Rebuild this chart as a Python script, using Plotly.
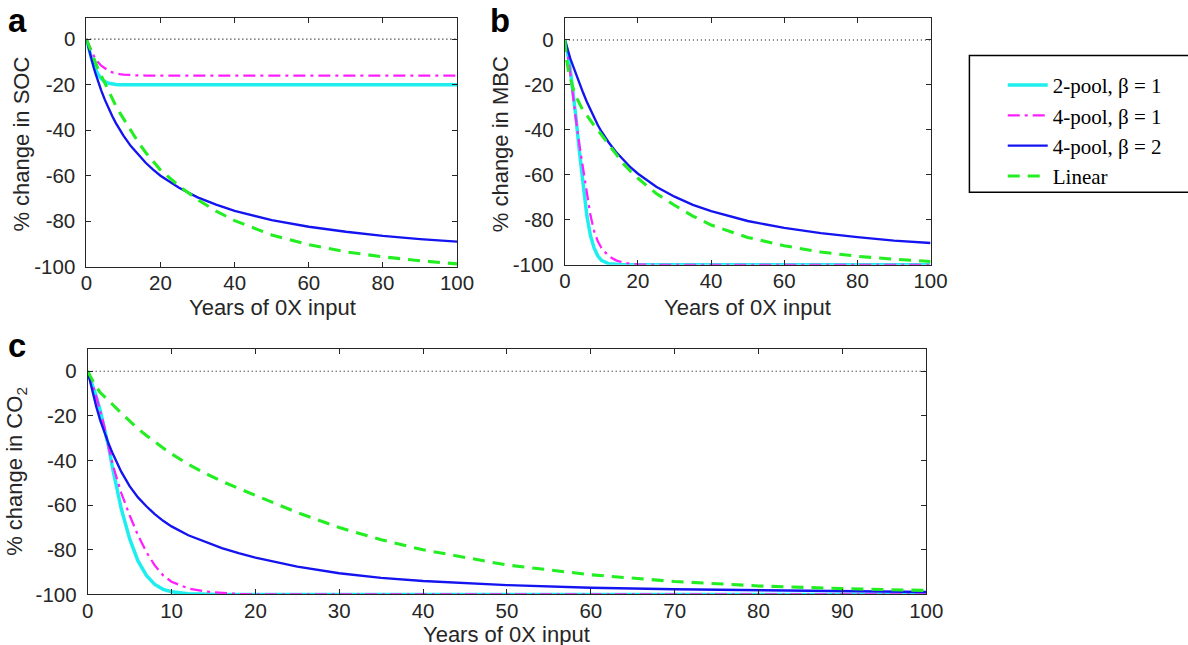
import plotly.graph_objects as go

# Canvas in layout pixels; positions below are given in display pixels and
# mapped through the page scale/offset of the viewer.
S = 0.9765
OFF_X, OFF_Y = 8, 2
W, H = 1210, 660

# Simulation years shared by all three panels
YEARS = [0, 0.5, 1, 1.5, 2, 2.5, 3, 4, 5, 6, 7, 8, 9, 10, 12, 14, 16, 18, 20,
         25, 30, 35, 40, 50, 60, 70, 80, 90, 100]

# (a) % change in soil organic carbon
soc_2pool_b1 = [0, -3.5, -6.5, -9.2, -11.5, -13.4, -15, -17.3, -18.7, -19.4, -19.8, -19.95, -20, -20,
                -20, -20, -20, -20, -20, -20, -20, -20, -20, -20, -20, -20, -20, -20, -20]
soc_4pool_b1 = [0, -2, -4, -5.8, -7.3, -8.7, -9.9, -11.7, -13, -13.9, -14.6, -15.1, -15.4, -15.6,
                -15.85, -15.95, -16, -16, -16, -16, -16, -16, -16, -16, -16, -16, -16, -16, -16]
soc_4pool_b2 = [0, -3.5, -6.7, -9.8, -12.6, -15.3, -17.9, -22.5, -26.7, -30.5, -33.9, -37, -39.8, -42.4,
                -47, -50.9, -54.3, -57.3, -60, -65.3, -69.5, -72.7, -75.4, -79.5, -82.4, -84.6, -86.4, -87.8, -88.9]
soc_linear = [0, -2.2, -4.5, -6.7, -8.8, -10.7, -12.5, -16, -19.5, -23, -26.3, -29.5, -32.3, -35,
              -40.3, -45.3, -49.8, -53.8, -57.5, -64.5, -70.5, -75.5, -79.7, -86, -90.3, -93.4, -95.6, -97.3, -98.7]

# (b) % change in microbial biomass carbon
mbc_2pool_b1 = [0, -3.5, -8, -13.5, -20, -27, -34, -50, -65, -78, -87, -92.5, -96, -98,
                -99.5, -99.9, -100, -100, -100, -100, -100, -100, -100, -100, -100, -100, -100, -100, -100]
mbc_4pool_b1 = [0, -4, -9, -15, -22, -28.5, -35, -47, -58, -68, -78, -85, -89.5, -92.5,
                -96.2, -98, -99, -99.5, -99.8, -100, -100, -100, -100, -100, -100, -100, -100, -100, -100]
mbc_4pool_b2 = [0, -3, -5.8, -8.3, -10.5, -12.8, -15, -19.5, -23.5, -27.5, -31, -34.5, -37.8, -40.7,
                -45.6, -49.8, -53.5, -56.7, -59.5, -65.3, -69.7, -73.3, -76.1, -80.5, -83.6, -85.9, -87.7, -89.2, -90.3]
mbc_linear = [0, -9, -14, -17.5, -20.5, -23, -25, -28.5, -31.5, -33.5, -36, -38, -40, -42.3,
              -46.5, -50.8, -55, -58.5, -61.5, -68.3, -73.5, -78.3, -82.3, -87.8, -91.5, -94.3, -96.2, -97.5, -98.5]

# (c) % change in CO2 efflux
co2_2pool_b1 = [0, -5, -11, -17.5, -25, -34, -44, -61.5, -75, -85, -91.5, -95.5, -97.7, -98.8,
                -99.7, -100, -100, -100, -100, -100, -100, -100, -100, -100, -100, -100, -100, -100, -100]
co2_4pool_b1 = [0, -5, -11, -17.5, -25, -34, -42, -54.5, -64.5, -73.5, -81, -87, -91.5, -94.3,
                -97.3, -98.7, -99.4, -99.8, -100, -100, -100, -100, -100, -100, -100, -100, -100, -100, -100]
co2_4pool_b2 = [0, -8, -15.5, -22, -27.5, -32.5, -37, -45, -51.5, -56.5, -60.5, -64, -67, -69.5,
                -73.5, -76.5, -79.2, -81.5, -83.5, -87.5, -90.5, -92.6, -94, -95.8, -97, -97.7, -98.2, -98.6, -98.9]
co2_linear = [0, -3.5, -7, -9.5, -11.5, -13.3, -15, -18.7, -22.3, -25.7, -28.8, -31.7, -34.4, -37,
              -41.7, -45.7, -49.3, -52.5, -55.5, -63.3, -70, -75.5, -80, -86.8, -91.2, -94.2, -96.2, -97.4, -98.2]

SERIES_NAMES = ["2-pool, \u03b2 = 1", "4-pool, \u03b2 = 1", "4-pool, \u03b2 = 2", "Linear"]
Y_TICKS = [-100, -80, -60, -40, -20, 0]
Y_TICK_TEXT = ["-100", "-80", "-60", "-40", "-20", "0"]
X_TICKS_TOP = [0, 20, 40, 60, 80, 100]
X_TICKS_BOTTOM = [0, 10, 20, 30, 40, 50, 60, 70, 80, 90, 100]
PANEL_TITLES = ["% change in SOC", "% change in MBC", "% change in CO<sub>2</sub>"]
X_TITLE = "Years of 0X input"


def fs(v):
    """display size -> layout size"""
    return v / S


STYLES = [
    dict(color="#1EEEEE", width=fs(3.4), dash="solid"),
    dict(color="#FF1EFF", width=fs(2.2), dash="12px,5px,3px,5px"),
    dict(color="#1414F0", width=fs(2.3), dash="solid"),
    dict(color="#22EE22", width=fs(3), dash="12px,8px"),
]

INK = "#262626"
SANS = "Liberation Sans, Arial, Helvetica, sans-serif"


def lx(P):
    """display x pixel -> layout pixel"""
    return (P - OFF_X) / S


def ly(P):
    return (P - OFF_Y) / S


def px_x(P):
    return lx(P) / W


def px_y(P):
    return 1 - ly(P) / H


fig = go.Figure()

panels = [
    ("x", "y", [soc_2pool_b1, soc_4pool_b1, soc_4pool_b2, soc_linear], True),
    ("x2", "y2", [mbc_2pool_b1, mbc_4pool_b1, mbc_4pool_b2, mbc_linear], False),
    ("x3", "y3", [co2_2pool_b1, co2_4pool_b1, co2_4pool_b2, co2_linear], False),
]

for xa, ya, series, show in panels:
    for i, vals in enumerate(series):
        fig.add_trace(go.Scatter(
            x=YEARS, y=vals, mode="lines", name=SERIES_NAMES[i],
            line=STYLES[i], xaxis=xa, yaxis=ya, showlegend=show,
        ))

axis_common = dict(
    showline=True, linecolor=INK, linewidth=1, mirror="ticks",
    ticks="inside", ticklen=5, tickwidth=1, tickcolor=INK,
    showgrid=False, zeroline=False,
    tickfont=dict(family=SANS, size=fs(20), color=INK),
)


def xaxis(domain, ticks, anchor):
    return dict(axis_common, domain=domain, range=[0, 100], tickvals=ticks,
                ticktext=[str(t) for t in ticks], anchor=anchor, ticklabelstandoff=-2)


def yaxis(domain, top, anchor):
    return dict(axis_common, domain=domain, range=[-100, top], tickvals=Y_TICKS,
                ticktext=Y_TICK_TEXT, anchor=anchor, ticklabelstandoff=6)


LEGEND_TEXT_X = 1049
LEGEND_ITEM_W = 40

fig.update_layout(
    width=W, height=H,
    margin=dict(l=0, r=0, t=0, b=0),
    paper_bgcolor="white", plot_bgcolor="white",
    xaxis=xaxis([px_x(88), px_x(457)], X_TICKS_TOP, "y"),
    yaxis=yaxis([px_y(267), px_y(20)], 9.2, "x"),
    xaxis2=xaxis([px_x(564.3), px_x(928.3)], X_TICKS_TOP, "y2"),
    yaxis2=yaxis([px_y(265), px_y(20)], 9.7, "x2"),
    xaxis3=xaxis([px_x(89.3), px_x(924)], X_TICKS_BOTTOM, "y3"),
    yaxis3=yaxis([px_y(592.3), px_y(349)], 9.8, "x3"),
    legend=dict(
        x=(lx(LEGEND_TEXT_X) - LEGEND_ITEM_W - 10) / W, y=1 - (ly(85) - 19) / H,
        xanchor="left", yanchor="top",
        font=dict(family="Liberation Serif, Times New Roman, serif", size=21, color="black"),
        bgcolor="rgba(0,0,0,0)", borderwidth=0, itemwidth=LEGEND_ITEM_W,
    ),
    showlegend=True,
)

# dotted zero reference line in each panel
for xa, ya in [("x", "y"), ("x2", "y2"), ("x3", "y3")]:
    fig.add_shape(type="line", xref=xa, yref=ya, x0=0, x1=100, y0=0, y1=0,
                  line=dict(color="#000000", width=1.1, dash="1px,3px"), layer="below")

# legend frame running off the right edge
fig.add_shape(type="rect", xref="paper", yref="paper",
              x0=px_x(967), x1=px_x(1205), y0=px_y(193), y1=px_y(57),
              line=dict(color="black", width=1.5))

title_font = dict(family=SANS, size=fs(21.5), color=INK)

# x-axis titles (centre of text box in display pixels)
for cx, cy in [(273, 307.5), (746.3, 307.5), (506.7, 632)]:
    fig.add_annotation(text=X_TITLE, xref="paper", yref="paper", x=px_x(cx), y=px_y(cy),
                       xanchor="center", yanchor="middle", showarrow=False, font=title_font,
                       borderpad=0)

# y-axis titles, rotated
for title, cx, cy in zip(PANEL_TITLES, [22.5, 500, 18.5], [145, 145, 470]):
    fig.add_annotation(text=title, xref="paper", yref="paper", x=px_x(cx), y=px_y(cy),
                       xanchor="center", yanchor="middle", textangle=-90,
                       showarrow=False, font=title_font, borderpad=0)

# panel letters, top of text box in layout pixels
for letter, x, top in [("a", 8, 0), ("b", 488, 0), ("c", 8, ly(355) - 31)]:
    fig.add_annotation(text=f"<b>{letter}</b>", xref="paper", yref="paper",
                       x=max(px_x(x), 0), y=1 - top / H, xanchor="left", yanchor="top",
                       showarrow=False, font=dict(family=SANS, size=fs(32), color="black"))

fig.write_html(
    "out.html",
    config={"responsive": False, "displayModeBar": False},
    post_script="document.body.style.margin='0px';document.body.style.overflow='hidden';",
)
